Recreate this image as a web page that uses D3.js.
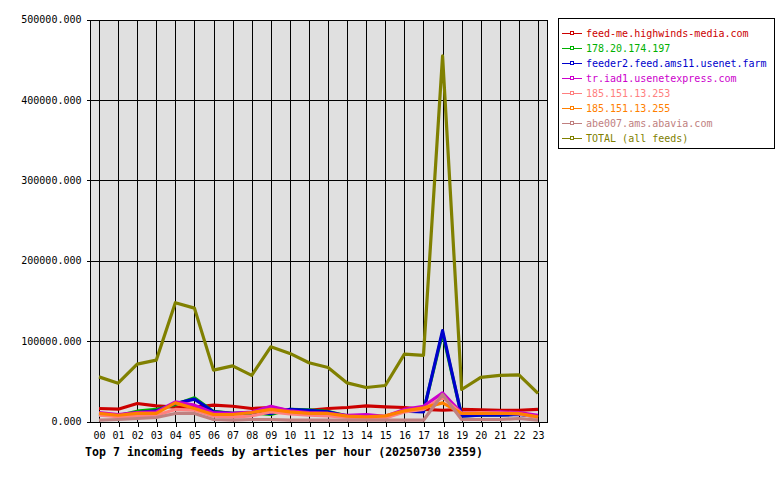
<!DOCTYPE html>
<html>
<head>
<meta charset="utf-8">
<script src="https://cdn.jsdelivr.net/npm/d3@7"></script>
<style>
  body { margin: 0; background: #fff; }
  svg text { font-family: "DejaVu Sans Mono", "Liberation Mono", monospace; }
</style>
</head>
<body>
<svg id="chart" width="780" height="480"></svg>
<script>
// hours on the x axis
const hours = ['00','01','02','03','04','05','06','07','08','09','10','11',
               '12','13','14','15','16','17','18','19','20','21','22','23'];
const yTicks = [0, 100000, 200000, 300000, 400000, 500000];

const feedNames = [
  'feed-me.highwinds-media.com',
  '178.20.174.197',
  'feeder2.feed.ams11.usenet.farm',
  'tr.iad1.usenetexpress.com',
  '185.151.13.253',
  '185.151.13.255',
  'abe007.ams.abavia.com',
  'TOTAL (all feeds)'
];
const feedColors = ['#cc0000', '#00b000', '#0000cc', '#cc00cc', '#ff8080', '#ff8000', '#c08080', '#808000'];

// articles per hour
const highwinds = [16200, 15300, 22400, 19400, 18000, 18000, 20300, 19000, 16200, 17400, 13500, 14000,
                   16200, 17400, 19400, 18200, 17400, 15000, 14000, 15000, 14500, 14000, 14000, 15000];
const feed178   = [ 9500,  7500, 12800, 15000, 21000, 29400, 12500, 10000, 10500,  8700, 15000, 14500,
                   12500,  7000,  5500,  5500, 13000, 12500, 110000, 7000,  8000,  8200,  9000,  6500];
const feeder2   = [ 8700,  7000, 11200, 13200, 22400, 27800, 12000, 10000, 11200, 10000, 15000, 14000,
                   12000,  6600,  5000,  5000, 13000, 12000, 113000, 6600,  7800,  7800,  8700,  6000];
const usenetexp = [11200,  8500, 11200, 12000, 24400, 20300, 10700, 10000, 11800, 19000, 13200, 11000,
                   10000,  7800,  8700,  6500, 15000, 19000, 35600, 10500, 11200, 12000, 11000,  7800];
const feed253   = [ 8000,  6000,  6500,  7800, 15000, 14000,  6600,  5500,  7000, 12000,  9500,  8000,
                    7000,  5000,  4500,  4500, 12000, 15000, 30000, 10000, 11200, 10500,  9500,  5000];
const feed255   = [10000,  7800, 10000, 10000, 23200, 16200,  8700,  8700, 11200, 15000, 12000, 10000,
                   10000,  6600,  5700,  7000, 13200, 17000, 23200, 10000, 10000, 10000, 10000,  5700];
const abavia    = [ 1600,  2500,  3700,  5000, 10000, 10000,  2500,  1600,  2500,  2500,  1600,  1600,
                    1600,  1600,  1600,  1600,  1600,  1600, 33600,  2500,  2500,  2500,  3700,  1600];
const total     = [55500, 47700, 71300, 76300, 147700, 141000, 63900, 69200, 57300, 92900, 84700, 73000,
                   67200, 48000, 42300, 44800, 83800, 82200, 454800, 39800, 54800, 57300, 58000, 34900];

const feedValues = [highwinds, feed178, feeder2, usenetexp, feed253, feed255, abavia, total];

const svg = d3.select('#chart');
const plot = { left: 90, right: 548, top: 20, bottom: 422 };

const x = d3.scalePoint().domain(hours).range([99, 538]);
const y = d3.scaleLinear().domain([0, 500000]).range([421.5, 19.5]);

// plot background
svg.append('rect')
  .attr('x', plot.left).attr('y', plot.top)
  .attr('width', plot.right - plot.left).attr('height', plot.bottom - plot.top)
  .attr('fill', '#e0e0e0');

// grid
const grid = svg.append('g').attr('stroke', '#000').attr('stroke-width', 1).attr('shape-rendering', 'crispEdges');
grid.selectAll('.vg').data(hours).join('line')
  .attr('x1', d => Math.round(x(d)) + 0.5).attr('x2', d => Math.round(x(d)) + 0.5)
  .attr('y1', plot.top).attr('y2', plot.bottom);
grid.selectAll('.hg').data(yTicks).join('line')
  .attr('x1', plot.left).attr('x2', plot.right)
  .attr('y1', d => Math.round(y(d)) + 0.5).attr('y2', d => Math.round(y(d)) + 0.5);

// axes
const yAxis = svg.append('g')
  .attr('transform', `translate(${plot.left + 0.5},0)`)
  .call(d3.axisLeft(y).tickValues(yTicks).tickSize(4).tickPadding(5).tickFormat(d3.format('.3f')));
const xAxis = svg.append('g')
  .attr('transform', `translate(0,${plot.bottom + 0.5})`)
  .call(d3.axisBottom(x).tickSize(4).tickPadding(5));
[yAxis, xAxis].forEach(a => {
  a.select('.domain').remove();
  a.selectAll('.tick line').attr('stroke', '#000').attr('shape-rendering', 'crispEdges');
  a.selectAll('.tick text').attr('fill', '#000').style('font-size', '10px');
});
xAxis.selectAll('.tick line').attr('transform', d => `translate(${Math.round(x(d)) + 0.5 - x(d)},0)`);

// border
svg.append('rect')
  .attr('x', plot.left + 0.5).attr('y', plot.top + 0.5)
  .attr('width', plot.right - plot.left - 1).attr('height', plot.bottom - plot.top)
  .attr('fill', 'none').attr('stroke', '#000').attr('shape-rendering', 'crispEdges');

// series lines
const line = d3.line().x((d, i) => x(hours[i])).y(d => y(d));
svg.append('g').selectAll('path').data(feedValues).join('path')
  .attr('d', d => line(d))
  .attr('fill', 'none')
  .attr('stroke', (d, i) => feedColors[i])
  .attr('stroke-width', 3.2)
  .attr('stroke-linejoin', 'round');

// legend
const legend = svg.append('g');
legend.append('rect')
  .attr('x', 558.5).attr('y', 18.5).attr('width', 216).attr('height', 130)
  .attr('fill', '#fff').attr('stroke', '#000').attr('shape-rendering', 'crispEdges');
const items = legend.selectAll('.item').data(feedNames).join('g')
  .attr('transform', (d, i) => `translate(0,${33.5 + i * 15})`);
items.append('line')
  .attr('x1', 562).attr('x2', 582).attr('y1', 0).attr('y2', 0)
  .attr('stroke', (d, i) => feedColors[i]).attr('shape-rendering', 'crispEdges');
items.append('rect')
  .attr('x', 570.5).attr('y', -2.5).attr('width', 3).attr('height', 3)
  .attr('fill', '#fff').attr('stroke', (d, i) => feedColors[i]).attr('shape-rendering', 'crispEdges');
items.append('text')
  .attr('x', 586).attr('y', 0).attr('dy', '0.35em')
  .attr('fill', (d, i) => feedColors[i])
  .style('font-size', '10px')
  .text(d => d);

// title
svg.append('text')
  .attr('x', 85).attr('y', 452).attr('dy', '0.35em')
  .style('font-size', '11.6px').style('font-weight', 'bold')
  .text('Top 7 incoming feeds by articles per hour (20250730 2359)');
</script>
</body>
</html>
